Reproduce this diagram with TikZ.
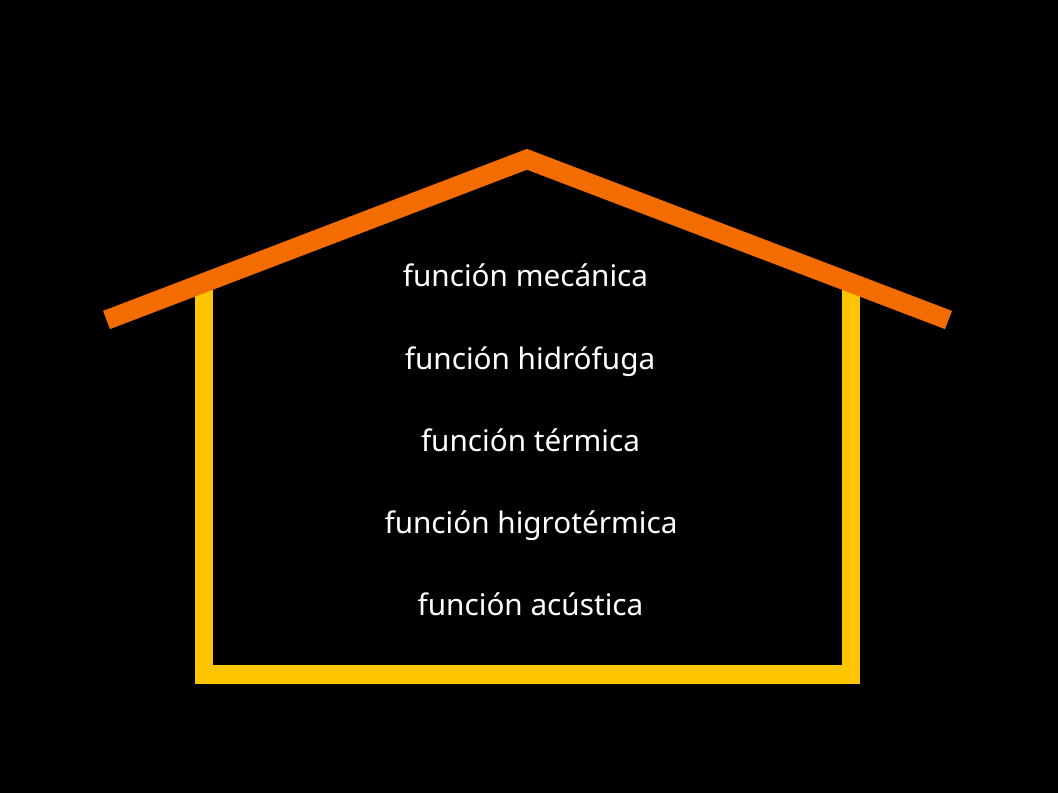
\documentclass[tikz,border=0pt]{standalone}
\usepackage{fontspec}
\setmainfont{Noto Sans}
\definecolor{roofc}{RGB}{243,108,0}
\definecolor{wallc}{RGB}{255,198,0}
\tikzset{
  px/.style={x=1pt,y=-1pt},
  wall/.style={draw=wallc,line width=18.5pt,miter limit=10},
  roof/.style={draw=roofc,line width=19.5pt,line join=miter,miter limit=10},
  lbl/.style={text=white,font=\fontsize{29.7}{30}\selectfont,anchor=base,inner sep=0pt}
}
\begin{document}
\begin{tikzpicture}[px]
\useasboundingbox (0,0) rectangle (1058,793);
\fill[black] (0,0) rectangle (1058,793);
\coordinate (wl) at (204,285);
\coordinate (wbl) at (204,674.7);
\coordinate (wbr) at (851,674.7);
\coordinate (wr) at (851,285);
\coordinate (rl) at (106.5,320);
\coordinate (ra) at (527,159.3);
\coordinate (rr) at (948.5,320);
\draw[wall] (wl) -- (wbl) -- (wbr) -- (wr);
\draw[roof] (rl) -- (ra) -- (rr);
\node[lbl] (t1) at (525.5,286.7) {función mecánica};
\node[lbl] (t2) at (530,369.2) {función hidrófuga};
\node[lbl] (t3) at (530.5,451.2) {función térmica};
\node[lbl] (t4) at (531,533.2) {función higrotérmica};
\node[lbl] (t5) at (530.5,615.7) {función acústica};
\end{tikzpicture}
\end{document}
